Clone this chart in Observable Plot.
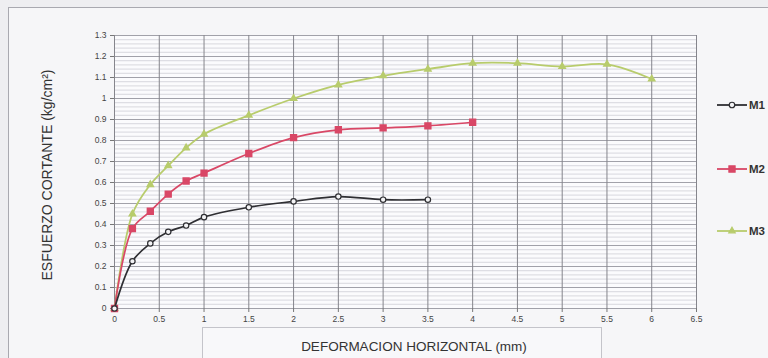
<!DOCTYPE html>
<html><head><meta charset="utf-8">
<script src="https://cdn.jsdelivr.net/npm/d3@7"></script>
<script src="https://cdn.jsdelivr.net/npm/@observablehq/plot@0.6"></script>
<style>
body{margin:0;background:#eeeef1;}
#wrap{position:relative;width:768px;height:358px;overflow:hidden;font-family:"Liberation Sans",Arial,sans-serif;background:#eeeef1;}
#frame{position:absolute;left:8px;top:7px;width:800px;height:400px;border-left:1px solid #a9a9b0;border-top:1px solid #a9a9b0;background:#f6f6f8;}
#chart{position:absolute;left:0;top:0;}
#ytitle{position:absolute;left:47px;top:175px;transform:translate(-50%,-50%) rotate(-90deg);white-space:nowrap;font-size:14px;color:#333;}
#xbox{position:absolute;left:202px;top:327px;width:398px;height:40px;border:1px solid #c4c4ca;background:#f8f8fa;}
#xtitle{position:absolute;left:414px;top:346px;transform:translate(-50%,-50%);white-space:nowrap;font-size:13.5px;color:#333;}
#legend{position:absolute;left:0;top:0;}
</style></head><body>
<div id="wrap">
  <div id="frame"></div>
  <div id="xbox"></div>
  <div id="chart"></div>
  <div id="ytitle">ESFUERZO CORTANTE (kg/cm²)</div>
  <div id="xtitle">DEFORMACION HORIZONTAL (mm)</div>
  <svg id="legend" width="768" height="358"></svg>
</div>
<script>
// ---- data ----
const seriesNames = ["M1", "M2", "M3"];
const m1X = [0, 0.2, 0.4, 0.6, 0.8, 1, 1.5, 2, 2.5, 3, 3.5];
const m1Y = [0, 0.225, 0.31, 0.365, 0.395, 0.435, 0.482, 0.51, 0.533, 0.518, 0.518];
const m2X = [0, 0.2, 0.4, 0.6, 0.8, 1, 1.5, 2, 2.5, 3, 3.5, 4];
const m2Y = [0, 0.38, 0.463, 0.545, 0.607, 0.645, 0.738, 0.814, 0.851, 0.86, 0.87, 0.887];
const m3X = [0, 0.2, 0.4, 0.6, 0.8, 1, 1.5, 2, 2.5, 3, 3.5, 4, 4.5, 5, 5.5, 6];
const m3Y = [0, 0.45, 0.59, 0.68, 0.765, 0.83, 0.92, 1.0, 1.065, 1.108, 1.14, 1.168, 1.168, 1.152, 1.163, 1.093];
const xTicks = [0, 0.5, 1, 1.5, 2, 2.5, 3, 3.5, 4, 4.5, 5, 5.5, 6, 6.5];
const yTicks = [0, 0.1, 0.2, 0.3, 0.4, 0.5, 0.6, 0.7, 0.8, 0.9, 1, 1.1, 1.2, 1.3];
const xTickLabels = ["0","0.5","1","1.5","2","2.5","3","3.5","4","4.5","5","5.5","6","6.5"];
const yTickLabels = ["0","0.1","0.2","0.3","0.4","0.5","0.6","0.7","0.8","0.9","1","1.1","1.2","1.3"];

// ---- build ----
const colors = {M1:"#2f2f33", M2:"#d94766", M3:"#b8cc6c"};
const toRows = (name, xs, ys) => xs.map((x, i) => ({series:name, x, y: ys[i]}));
const rows = [...toRows("M1", m1X, m1Y), ...toRows("M2", m2X, m2Y), ...toRows("M3", m3X, m3Y)];
const minorY = d3.range(0, 131, 2).map(v => v / 100);

const marks = [
  Plot.frame({fill:"#fbfbfd", stroke:null}),
  Plot.ruleY(minorY, {stroke:"#c9c9d1", strokeWidth:0.7}),
  Plot.ruleY(yTicks, {stroke:"#9b9ba3", strokeWidth:0.9}),
  Plot.ruleX(xTicks, {stroke:"#85858c", strokeWidth:1}),
  Plot.axisX({ticks:xTicks, tickFormat:(d)=>xTickLabels[xTicks.indexOf(d)], tickSize:4, tickPadding:3, stroke:"#777", label:null}),
  Plot.axisY({ticks:yTicks, tickFormat:(d)=>yTickLabels[yTicks.indexOf(d)], tickSize:4, tickPadding:4, stroke:"#777", label:null})
];
for (const s of ["M3", "M2", "M1"]) {
  const data = rows.filter(r => r.series === s);
  marks.push(Plot.line(data, {x:"x", y:"y", stroke:colors[s], strokeWidth: s==="M3" ? 1.8 : 1.7, curve:"catmull-rom"}));
  if (s === "M1") marks.push(Plot.dot(data, {x:"x", y:"y", symbol:"circle", r:2.7, fill:"#f4f4f6", stroke:colors[s], strokeWidth:1.2}));
  else if (s === "M2") marks.push(Plot.dot(data, {x:"x", y:"y", symbol:"square", r:3.3, fill:colors[s], stroke:colors[s]}));
  else marks.push(Plot.dot(data, {x:"x", y:"y", symbol:"triangle", r:2.3, fill:colors[s], stroke:colors[s]}));
}

const chart = Plot.plot({
  width:768, height:358,
  marginLeft:114, marginRight:72, marginTop:35, marginBottom:50,
  x:{domain:[0, 6.5]},
  y:{domain:[0, 1.3]},
  style:{background:"transparent", fontSize:"8.5px", fontFamily:"'Liberation Sans', Arial, sans-serif", color:"#444", overflow:"visible"},
  marks
});
document.getElementById("chart").appendChild(chart);

// ---- legend ----
const leg = d3.select("#legend");
const legY = {M1:105, M2:169, M3:231};
seriesNames.forEach(s => {
  const g = leg.append("g").attr("transform", `translate(0,${legY[s]})`);
  g.append("line").attr("x1", 717).attr("x2", 747).attr("y1", 0).attr("y2", 0)
    .attr("stroke", colors[s]).attr("stroke-width", 1.8);
  const sym = d3.symbol().type(s === "M1" ? d3.symbolCircle : s === "M2" ? d3.symbolSquare : d3.symbolTriangle)
    .size(s === "M2" ? 38 : s === "M1" ? 24 : 18);
  g.append("path").attr("d", sym()).attr("transform", "translate(732,0)")
    .attr("fill", s === "M1" ? "#f4f4f6" : colors[s]).attr("stroke", colors[s]).attr("stroke-width", 1.2);
  g.append("text").attr("x", 749).attr("y", 4).attr("font-size", 11.5).attr("font-weight", "bold")
    .attr("font-family", "'Liberation Sans', Arial, sans-serif").attr("fill", "#333").text(s);
});
</script>
</body></html>
